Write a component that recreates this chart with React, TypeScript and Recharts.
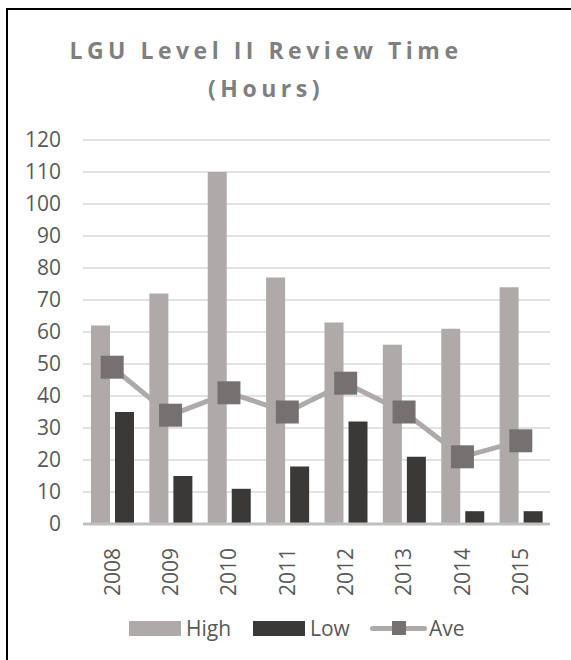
import { ComposedChart, Bar, Line, XAxis, YAxis, CartesianGrid, Legend } from 'recharts';

const years = ['2008', '2009', '2010', '2011', '2012', '2013', '2014', '2015'];
const high = [62, 72, 110, 77, 63, 56, 61, 74];
const low = [35, 15, 11, 18, 32, 21, 4, 4];
const ave = [49, 34, 41, 35, 44, 35, 21, 26];
const yTicks = [0, 10, 20, 30, 40, 50, 60, 70, 80, 90, 100, 110, 120];

const data = years.map((year, i) => ({
  year,
  High: high[i],
  Low: low[i],
  Ave: ave[i]
}));

const FONT = '"Open Sans", "Liberation Sans", sans-serif';
const HIGH_COLOR = '#aeaaaa';
const LOW_COLOR = '#3b3838';
const MARKER_COLOR = '#767171';
const TEXT_COLOR = '#595959';

const SquareDot = (props: any) => {
  const { cx, cy, index } = props;
  if (cx == null || cy == null) return null;
  const s = 23;
  return <rect key={`dot-${index}`} x={cx - s / 2} y={cy - s / 2} width={s} height={s} fill={MARKER_COLOR} />;
};

const YearTick = (props: any) => {
  const { x, y, payload } = props;
  const ty = y + 16;
  return (
    <text
      x={x}
      y={ty}
      dy="0.35em"
      textAnchor="end"
      transform={`rotate(-90, ${x}, ${ty})`}
      fill={TEXT_COLOR}
      fontSize={21}
      fontFamily={FONT}
    >
      {payload.value}
    </text>
  );
};

const renderLegend = () => (
  <div style={{ position: 'relative', height: 30, fontFamily: FONT, fontSize: 21, color: TEXT_COLOR }}>
    <div style={{ position: 'absolute', left: 129, top: 8, width: 52, height: 15, background: HIGH_COLOR }} />
    <span style={{ position: 'absolute', left: 186, top: 0, lineHeight: '30px' }}>High</span>
    <div style={{ position: 'absolute', left: 253, top: 8, width: 52, height: 15, background: LOW_COLOR }} />
    <span style={{ position: 'absolute', left: 310, top: 0, lineHeight: '30px' }}>Low</span>
    <div style={{ position: 'absolute', left: 370, top: 13, width: 57, height: 5, borderRadius: 3, background: HIGH_COLOR }} />
    <div style={{ position: 'absolute', left: 392, top: 8, width: 14, height: 14, background: MARKER_COLOR }} />
    <span style={{ position: 'absolute', left: 429, top: 0, lineHeight: '30px' }}>Ave</span>
  </div>
);

export default function App() {
  return (
    <div style={{ position: 'absolute', left: 0, top: 0, width: 571, height: 660, background: '#fff', overflow: 'hidden' }}>
      <div
        style={{
          position: 'absolute',
          left: 6,
          top: 8,
          width: 580,
          height: 670,
          borderTop: '2px solid #000',
          borderLeft: '2px solid #000'
        }}
      />
      <div
        style={{
          position: 'absolute',
          left: 0,
          top: 31,
          width: 532,
          textAlign: 'center',
          fontFamily: FONT,
          fontWeight: 700,
          fontSize: 23,
          letterSpacing: 4.5,
          lineHeight: '38px',
          color: '#7f7f7f'
        }}
      >
        LGU Level II Review Time
        <br />
        (Hours)
      </div>
      <ComposedChart
        width={571}
        height={660}
        data={data}
        margin={{ top: 140, right: 21, bottom: 56, left: 0 }}
        barGap={5}
        style={{ position: 'absolute', left: 0, top: 0 }}
      >
        <CartesianGrid vertical={false} stroke="#d9d9d9" strokeWidth={1.5} />
        <XAxis
          dataKey="year"
          tick={<YearTick />}
          tickLine={false}
          axisLine={{ stroke: '#bfbfbf', strokeWidth: 3 }}
          interval={0}
          height={80}
        />
        <YAxis
          domain={[0, 120]}
          ticks={yTicks}
          interval={0}
          width={83}
          tickSize={0}
          tickMargin={22}
          tickLine={false}
          axisLine={false}
          tick={{ fill: TEXT_COLOR, fontSize: 21, fontFamily: FONT }}
        />
        <Bar dataKey="High" fill={HIGH_COLOR} barSize={19} isAnimationActive={false} />
        <Bar dataKey="Low" fill={LOW_COLOR} barSize={19} isAnimationActive={false} />
        <Line
          dataKey="Ave"
          stroke={HIGH_COLOR}
          strokeWidth={5}
          dot={<SquareDot />}
          activeDot={false}
          isAnimationActive={false}
        />
        <Legend
          layout="horizontal"
          verticalAlign="middle"
          align="center"
          content={renderLegend}
          wrapperStyle={{ top: 613, left: 0, width: 571, height: 30 }}
        />
      </ComposedChart>
    </div>
  );
}
